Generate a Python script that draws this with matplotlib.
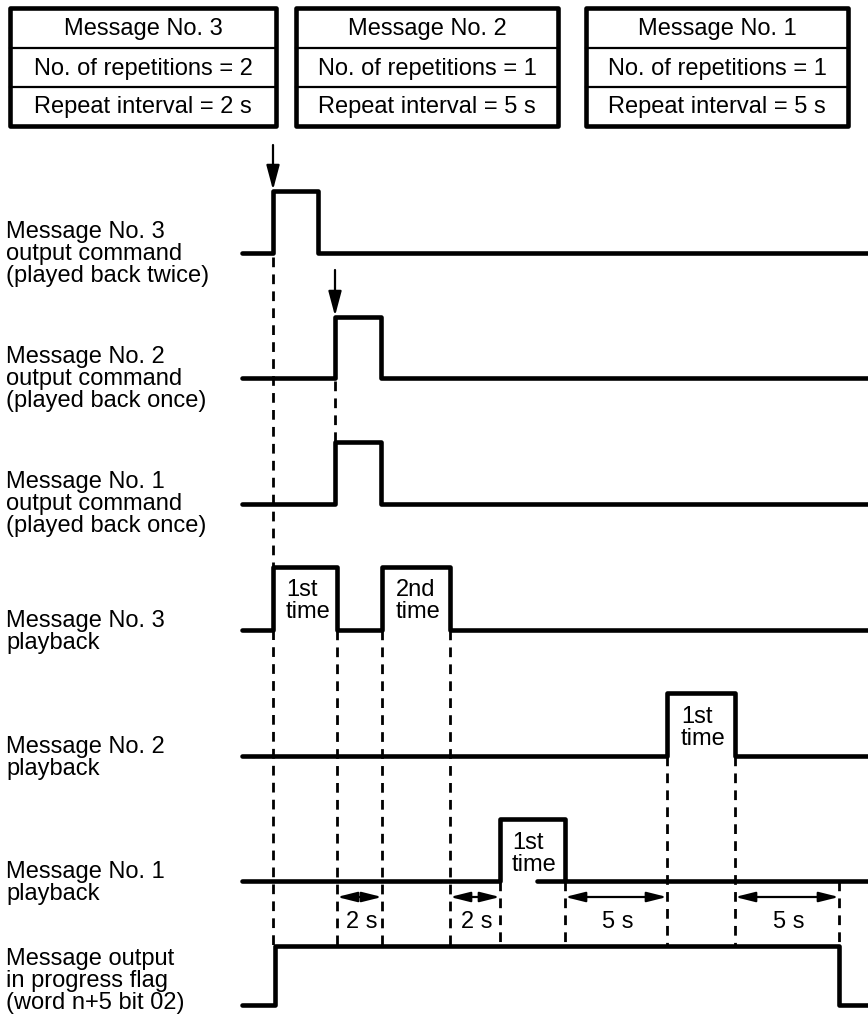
import matplotlib
matplotlib.use("Agg")
import matplotlib.pyplot as plt
from matplotlib.patches import Rectangle

plt.rcParams['font.family'] = ['Liberation Sans', 'DejaVu Sans']

W, H = 868, 1032
fig = plt.figure(figsize=(W / 100, H / 100), dpi=100)
ax = fig.add_axes([0, 0, 1, 1])
ax.set_xlim(0, W)
ax.set_ylim(H, 0)
ax.axis('off')

# ---------------- data ----------------
box_titles = ["Message No. 3", "Message No. 2", "Message No. 1"]
box_reps = ["No. of repetitions = 2", "No. of repetitions = 1", "No. of repetitions = 1"]
box_intervals = ["Repeat interval = 2 s", "Repeat interval = 5 s", "Repeat interval = 5 s"]
box_left = [10, 296, 586]
box_right = [276, 558, 848]
box_rows = [8, 48, 87, 126]

signal_labels = [
    "Message No. 3\noutput command\n(played back twice)",
    "Message No. 2\noutput command\n(played back once)",
    "Message No. 1\noutput command\n(played back once)",
    "Message No. 3\nplayback",
    "Message No. 2\nplayback",
    "Message No. 1\nplayback",
    "Message output\nin progress flag\n(word n+5 bit 02)",
]
label_y = [254, 379, 504, 632, 758, 883, 981]
signal_low = [253, 378, 504, 630, 756, 881, 1005]
signal_high = [191, 317, 442, 567, 693, 819, 946]
signal_edges = [
    [273, 318],
    [335, 381],
    [335, 381],
    [273, 337, 382, 450],
    [667, 735],
    [500, 565],
    [275, 839],
]
signal_start = 242
signal_end = 868

# command trigger arrows (x, y_from, y_to)
trigger_x = [273, 335]
trigger_y0 = [145, 270]
trigger_y1 = [191, 317]

# pulse annotations (left-aligned)
pulse_text = ["1st\ntime", "2nd\ntime", "1st\ntime", "1st\ntime"]
pulse_x = [286, 396, 681, 512]
pulse_y = [601, 601, 728, 854]

# dashed guide lines (x, top, bottom)
guide_x = [273, 335, 337, 382, 450, 500, 565, 667, 735, 839]
guide_top = [257, 381, 630, 630, 630, 881, 881, 756, 756, 881]
guide_bot = [946, 442, 946, 946, 946, 946, 946, 946, 946, 946]

# interval dimension arrows
interval_start = [337, 450, 565, 735]
interval_end = [382, 500, 667, 839]
interval_text = ["2 s", "2 s", "5 s", "5 s"]
dim_y = 897
dim_text_y = 922

# baseline segment reappearing inside msg1 pulse (artifact of original)
extra_seg = (537, 565, 881)

FS = 17
LW = 3.3

# ---------------- boxes ----------------
for i in range(3):
    x0, x1 = box_left[i], box_right[i]
    ax.add_patch(Rectangle((x0, box_rows[0]), x1 - x0, box_rows[3] - box_rows[0],
                           fill=False, lw=3.3, ec='black', joinstyle='round'))
    for r in (1, 2):
        ax.plot([x0, x1], [box_rows[r], box_rows[r]], color='black', lw=1.6)
    texts = [box_titles[i], box_reps[i], box_intervals[i]]
    for r in range(3):
        yc = (box_rows[r] + box_rows[r + 1]) / 2
        ax.text((x0 + x1) / 2, yc + 1, texts[r], ha='center', va='center', fontsize=FS)

# ---------------- dashed guides ----------------
for x, t, b in zip(guide_x, guide_top, guide_bot):
    ax.plot([x, x], [t, b], color='black', lw=2.0, linestyle=(0, (3.5, 2.6)), zorder=1)

# ---------------- signals ----------------
for k in range(len(signal_labels)):
    lo, hi = signal_low[k], signal_high[k]
    xs = [signal_start]
    ys = [lo]
    level = lo
    for e in signal_edges[k]:
        xs += [e, e]
        ys += [level, hi if level == lo else lo]
        level = hi if level == lo else lo
    xs.append(signal_end)
    ys.append(level)
    ax.plot(xs, ys, color='black', lw=LW, solid_capstyle='round', solid_joinstyle='round', zorder=3)
    ax.text(6, label_y[k], signal_labels[k], ha='left', va='center', fontsize=FS, linespacing=0.98)

ax.plot([extra_seg[0], extra_seg[1]], [extra_seg[2], extra_seg[2]], color='black', lw=LW,
        solid_capstyle='round', zorder=3)

# trigger arrows
for x, y0, y1 in zip(trigger_x, trigger_y0, trigger_y1):
    ax.annotate('', xy=(x, y1 - 1), xytext=(x, y0),
                arrowprops=dict(arrowstyle='-|>,head_length=1.5,head_width=0.4',
                                color='black', lw=1.6, shrinkA=0, shrinkB=0))

# pulse annotations
for t, x, y in zip(pulse_text, pulse_x, pulse_y):
    ax.text(x, y, t, ha='left', va='center', fontsize=FS, linespacing=1.05, zorder=2)

# interval arrows
for x0, x1, t in zip(interval_start, interval_end, interval_text):
    ax.annotate('', xy=(x1, dim_y), xytext=(x0, dim_y),
                arrowprops=dict(arrowstyle='<|-|>,head_length=1.2,head_width=0.3',
                                color='black', lw=1.6, shrinkA=0, shrinkB=0))
    ax.text((x0 + x1) / 2 + 2, dim_text_y, t, ha='center', va='center', fontsize=FS)

fig.savefig('out.png', dpi=100)
